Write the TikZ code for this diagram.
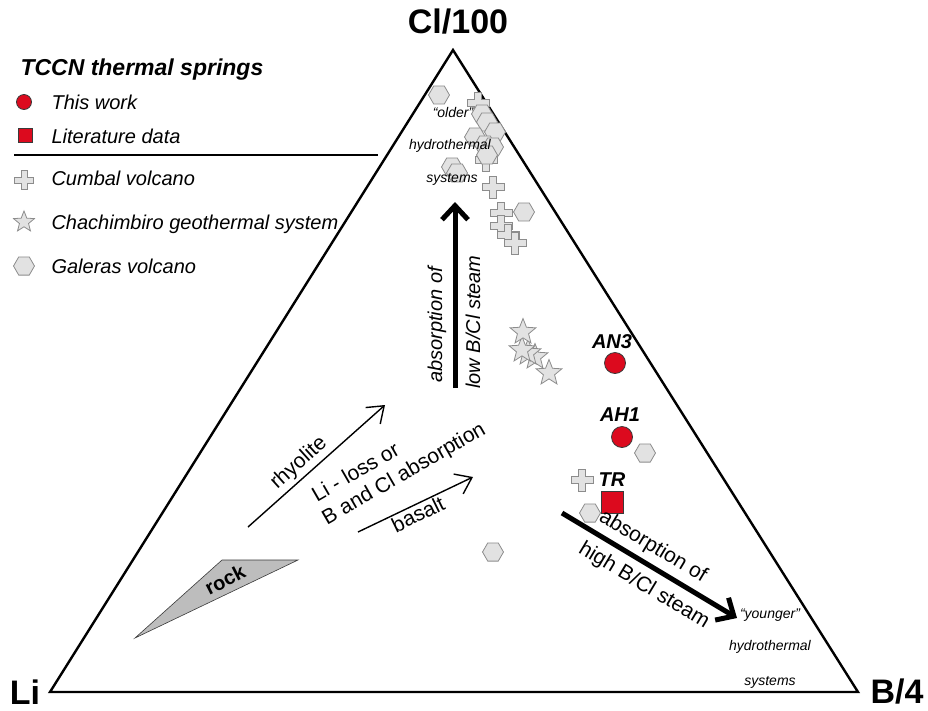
\documentclass[tikz,border=0pt]{standalone}
\usepackage{fontspec}
\setmainfont{Liberation Sans}
\usepackage{tikz}
\usetikzlibrary{positioning, arrows.meta, calc, shapes.geometric}
\definecolor{tccnRed}{HTML}{DC0A1E}
\definecolor{tccnEdge}{HTML}{3A3A3A}
\definecolor{markFill}{HTML}{E2E2E2}
\definecolor{markEdge}{HTML}{8C8C8C}
\definecolor{rockFill}{HTML}{BDBDBD}
\newcommand{\fsz}[1]{\fontsize{#1}{#1}\selectfont}

\tikzset{
  hexmark/.style={regular polygon, regular polygon sides=6, minimum size=21,
    inner sep=0pt, draw=markEdge, fill=markFill, line width=0.8pt},
  starmark/.style={star, star points=5, star point ratio=2.3, minimum size=27,
    inner sep=0pt, draw=markEdge, fill=markFill, line width=0.8pt},
  springmark/.style={circle, minimum size=21, inner sep=0pt,
    draw=tccnEdge, fill=tccnRed, line width=0.8pt},
  litmark/.style={rectangle, minimum size=22, inner sep=0pt,
    draw=tccnEdge, fill=tccnRed, line width=0.8pt},
  cumbal/.pic={\draw[draw=markEdge, fill=markFill, line width=0.8pt]
    (-3.5,-11) -- (3.5,-11) -- (3.5,-3.5) -- (11,-3.5) -- (11,3.5) -- (3.5,3.5)
    -- (3.5,11) -- (-3.5,11) -- (-3.5,3.5) -- (-11,3.5) -- (-11,-3.5)
    -- (-3.5,-3.5) -- cycle;},
  legtext/.style={anchor=base west, font=\fsz{20}\itshape},
  corner/.style={font=\fsz{34}\bfseries},
  regime/.style={font=\fsz{14}\itshape, inner sep=1pt},
  trend/.style={font=\fsz{21}, inner sep=1pt},
  pointlabel/.style={font=\fsz{20}\bfseries\itshape},
  thinarrow/.style={-{Straight Barb[length=15pt, width=22pt]}, line width=1.4pt},
  steamarrow/.style={-{Straight Barb[length=14pt, width=26pt]}, line width=5pt}
}

\begin{document}
\begin{tikzpicture}[x=1pt, y=-1pt]
  \useasboundingbox (0,0) rectangle (928,710);

  % ternary frame
  \coordinate (cl) at (453,50);
  \coordinate (li) at (50,692);
  \coordinate (bo) at (858,692);
  \draw[line width=2.4pt, line join=miter] (cl) -- (li) -- (bo) -- cycle;
  \node[corner] (clLab) at (458,22) {Cl/100};
  \node[corner] (liLab) at (25,692) {Li};
  \node[corner] (boLab) at (897,692) {B/4};

  % legend
  \node[anchor=base west, font=\fsz{23}\bfseries\itshape] (legTitle) at (17,75) {TCCN thermal springs};
  \node[springmark, minimum size=15] (legSpring) at (24,102) {};
  \node[legtext] (legSpringTxt) at (48,109) {This work};
  \node[litmark, minimum size=14] (legLit) at (25,135) {};
  \node[legtext] (legLitTxt) at (48,143) {Literature data};
  \draw[line width=1.3pt] (14,155) -- (378,155);
  \pic[scale=0.85] (legCumbal) at (24,180) {cumbal};
  \node[legtext] (legCumbalTxt) at (48,185) {Cumbal volcano};
  \node[starmark, minimum size=22] (legChach) at (24,222) {};
  \node[legtext] (legChachTxt) at (48,229) {Chachimbiro geothermal system};
  \node[hexmark, minimum size=21] (legGal) at (24,266) {};
  \node[legtext] (legGalTxt) at (48,273) {Galeras volcano};

  % Cumbal volcano
  \foreach \cx/\cy [count=\i] in {478/103, 486/160, 493/187, 501/213, 501/226,
      508/235, 515/243, 582/480}
    \pic (cum\i) at (\cx,\cy) {cumbal};
  % Galeras volcano
  \foreach \hx/\hy [count=\i] in {439/95, 482/114, 487/122, 495/132, 475/137,
      485/145, 493/147, 487/155, 452/167, 457/173, 524/212, 645/453, 590/513,
      493/552}
    \node[hexmark] (gal\i) at (\hx,\hy) {};
  % Chachimbiro
  \foreach \sx/\sy [count=\i] in {535/357, 528/353, 522/350, 523/332, 549/373}
    \node[starmark] (cha\i) at (\sx,\sy) {};

  % regime labels
  \node[regime] (oldA) at (453,112) {``older''};
  \node[regime] (oldB) at (450,146) {hydrothermal};
  \node[regime] (oldC) at (452,179) {systems};
  \node[regime] (youngA) at (770,615) {``younger''};
  \node[regime] (youngB) at (770,647) {hydrothermal};
  \node[regime] (youngC) at (770,682) {systems};

  % TCCN springs
  \node[springmark] (an3) at (615,363) {};
  \node[pointlabel] (an3Lab) at (612,342) {AN3};
  \node[springmark] (ah1) at (622,437) {};
  \node[pointlabel] (ah1Lab) at (620,415) {AH1};
  \node[litmark] (tr) at (612,502) {};
  \node[pointlabel] (trLab) at (612,480) {TR};

  % steam absorption trends
  \coordinate (lowS) at (455,388);
  \coordinate (lowE) at (455,202);
  \draw[steamarrow] (lowS) -- (lowE);
  \node[trend, rotate=90, font=\fsz{20}\itshape] (lowA) at (437,325) {absorption of};
  \node[trend, rotate=90, font=\fsz{20}\itshape] (lowB) at (473,322) {low B/Cl steam};
  \coordinate (highS) at (562,513);
  \coordinate (highE) at (737,618);
  \draw[steamarrow] (highS) -- (highE);
  \node[trend, rotate=-31] (highA) at (653,547) {absorption of};
  \node[trend, rotate=-31] (highB) at (644,586) {high B/Cl steam};

  % rock leaching trends
  \coordinate (rhyS) at (248,527);
  \coordinate (rhyE) at (385,405);
  \draw[thinarrow] (rhyS) -- (rhyE);
  \node[trend, rotate=42] (rhyLab) at (299,463) {rhyolite};
  \coordinate (basS) at (358,532);
  \coordinate (basE) at (473,477);
  \draw[thinarrow] (basS) -- (basE);
  \node[trend, rotate=26] (basLab) at (418,514) {basalt};
  \node[trend, anchor=base west, rotate=30] (lossA) at (316,503) {Li - loss or};
  \node[trend, anchor=base west, rotate=30] (lossB) at (326,526) {B and Cl absorption};

  % rock
  \fill[rockFill, draw=tccnEdge, line width=0.6pt] (222,560) -- (298,560) -- (135,638) -- cycle;
  \node[font=\fsz{20}\bfseries, rotate=27] (rockLab) at (225,580) {rock};
\end{tikzpicture}
\end{document}
